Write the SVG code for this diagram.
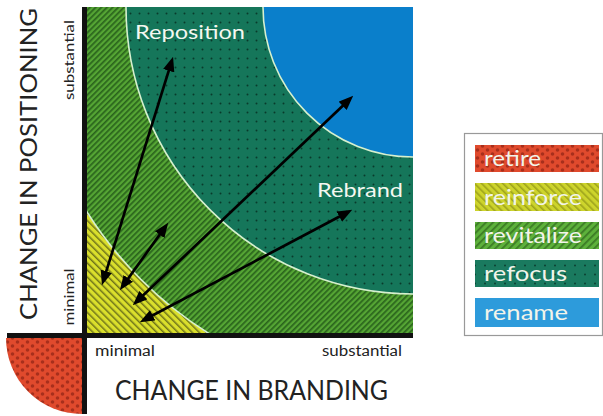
<svg xmlns="http://www.w3.org/2000/svg" width="603" height="416" viewBox="0 0 603 416">
<style>
.ax{font-family:Lato,"Open Sans","Liberation Sans",sans-serif;fill:#222}
.lbl{font-family:Lato,"Open Sans","Liberation Sans",sans-serif;fill:#f4f8f0;font-size:20px}
.leg{font-family:Lato,"Open Sans","Liberation Sans",sans-serif;fill:#f2f4ea;font-size:21px}
.bnd{fill:none;stroke:#d6f0cf;stroke-width:1.6}
.arr{fill:none;stroke:#000;stroke-width:2.7;marker-start:url(#ah);marker-end:url(#ah)}
</style>
<defs>
<clipPath id="chartClip"><rect x="87" y="7" width="326" height="326"/></clipPath>
<pattern id="yellowPat" patternUnits="userSpaceOnUse" width="5" height="10" patternTransform="rotate(-45)">
<rect width="5" height="10" fill="#dadf2c"/><rect x="0" y="0" width="1.5" height="10" fill="#6f741a"/>
</pattern>
<pattern id="greenPat" patternUnits="userSpaceOnUse" width="4" height="10" patternTransform="rotate(45)">
<rect width="4" height="10" fill="#55a534"/><rect x="0" y="0" width="1.7" height="10" fill="#2a641c"/>
</pattern>
<pattern id="tealPat" patternUnits="userSpaceOnUse" width="9" height="9">
<rect width="9" height="9" fill="#15765a"/><circle cx="4.5" cy="4.5" r="1" fill="#083a2b"/>
</pattern>
<pattern id="redPat" patternUnits="userSpaceOnUse" width="10" height="8">
<rect width="10" height="8" fill="#e04a2d"/><circle cx="2.5" cy="2" r="1.8" fill="#a82f1c"/><circle cx="7.5" cy="6" r="1.8" fill="#a82f1c"/>
</pattern>
<pattern id="legYellow" patternUnits="userSpaceOnUse" width="5" height="10" patternTransform="rotate(-45)">
<rect width="5" height="10" fill="#cdd42c"/><rect x="0" y="0" width="1.6" height="10" fill="#9ea31c"/>
</pattern>
<pattern id="legGreen" patternUnits="userSpaceOnUse" width="5" height="10" patternTransform="rotate(45)">
<rect width="5" height="10" fill="#5db13b"/><rect x="0" y="0" width="1.8" height="10" fill="#3c7c26"/>
</pattern>
<pattern id="legTeal" patternUnits="userSpaceOnUse" width="10" height="9">
<rect width="10" height="9" fill="#1a7a5f"/><circle cx="5" cy="4.5" r="1" fill="#0b3f30"/>
</pattern>
<marker id="ah" viewBox="0 0 10 8" refX="6.4" refY="4" markerWidth="5.4" markerHeight="4.4" orient="auto-start-reverse" markerUnits="strokeWidth">
<path d="M0,0 L10,4 L0,8 Z" fill="#000"/>
</marker>
</defs>

<g id="chart">
<g clip-path="url(#chartClip)">
<rect id="reinforce-region" x="87" y="7" width="326" height="326" fill="url(#yellowPat)"/>
<circle id="revitalize-region" cx="413" cy="7" r="385" fill="url(#greenPat)"/>
<circle id="refocus-region" cx="413" cy="7" r="287" fill="url(#tealPat)"/>
<circle id="rename-region" cx="413" cy="7" r="150" fill="#0a7fcb"/>
<circle class="bnd" cx="413" cy="7" r="385"/>
<circle class="bnd" cx="413" cy="7" r="287"/>
<circle class="bnd" cx="413" cy="7" r="150"/>
</g>
<path id="retire-region" d="M82 338 L6 338 A76 76 0 0 0 82 414 Z" fill="url(#redPat)"/>
<rect x="82" y="7" width="5" height="407" fill="#111"/>
<rect x="7" y="333" width="406" height="5" fill="#111"/>
</g>

<g id="region-labels">
<text class="lbl" x="135" y="39" textLength="110" lengthAdjust="spacingAndGlyphs">Reposition</text>
<text class="lbl" x="317" y="197" textLength="86" lengthAdjust="spacingAndGlyphs">Rebrand</text>
</g>

<g id="connectors">
<line class="arr" x1="103.5" y1="280.2" x2="171.5" y2="61.8"/>
<line class="arr" x1="122.9" y1="285.9" x2="165.1" y2="227.1"/>
<line class="arr" x1="136.6" y1="301.6" x2="349.4" y2="99.4"/>
<line class="arr" x1="144.4" y1="319.7" x2="347.6" y2="212.3"/>
</g>

<g id="axis-labels">
<text class="ax" transform="translate(37,164) rotate(-90)" text-anchor="middle" font-size="24" textLength="312" lengthAdjust="spacingAndGlyphs">CHANGE IN POSITIONING</text>
<text class="ax" transform="translate(74,60) rotate(-90)" text-anchor="middle" font-size="14" textLength="80" lengthAdjust="spacingAndGlyphs">substantial</text>
<text class="ax" transform="translate(74,297) rotate(-90)" text-anchor="middle" font-size="14" textLength="57" lengthAdjust="spacingAndGlyphs">minimal</text>
<text class="ax" x="95" y="356" font-size="14.5" textLength="60" lengthAdjust="spacingAndGlyphs">minimal</text>
<text class="ax" x="322" y="356" font-size="14.5" textLength="80" lengthAdjust="spacingAndGlyphs">substantial</text>
<text class="ax" x="115" y="400" font-size="26" textLength="273" lengthAdjust="spacingAndGlyphs">CHANGE IN BRANDING</text>
</g>

<g id="legend">
<rect x="464.5" y="133.5" width="138" height="202" fill="#fff" stroke="#999" stroke-width="1.2"/>
<g id="leg-retire"><rect x="475" y="145" width="124" height="27" fill="url(#redPat)"/><text class="leg" x="484" y="166" textLength="57" lengthAdjust="spacingAndGlyphs">retire</text></g>
<g id="leg-reinforce"><rect x="475" y="183" width="124" height="28" fill="url(#legYellow)"/><text class="leg" x="484" y="205" textLength="98" lengthAdjust="spacingAndGlyphs">reinforce</text></g>
<g id="leg-revitalize"><rect x="475" y="222" width="124" height="27" fill="url(#legGreen)"/><text class="leg" x="484" y="243" textLength="98" lengthAdjust="spacingAndGlyphs">revitalize</text></g>
<g id="leg-refocus"><rect x="475" y="260" width="124" height="27" fill="url(#legTeal)"/><text class="leg" x="484" y="281" textLength="83" lengthAdjust="spacingAndGlyphs">refocus</text></g>
<g id="leg-rename"><rect x="475" y="298" width="124" height="29" fill="#2d9bdb"/><text class="leg" x="484" y="320" textLength="84" lengthAdjust="spacingAndGlyphs">rename</text></g>
</g>
</svg>
